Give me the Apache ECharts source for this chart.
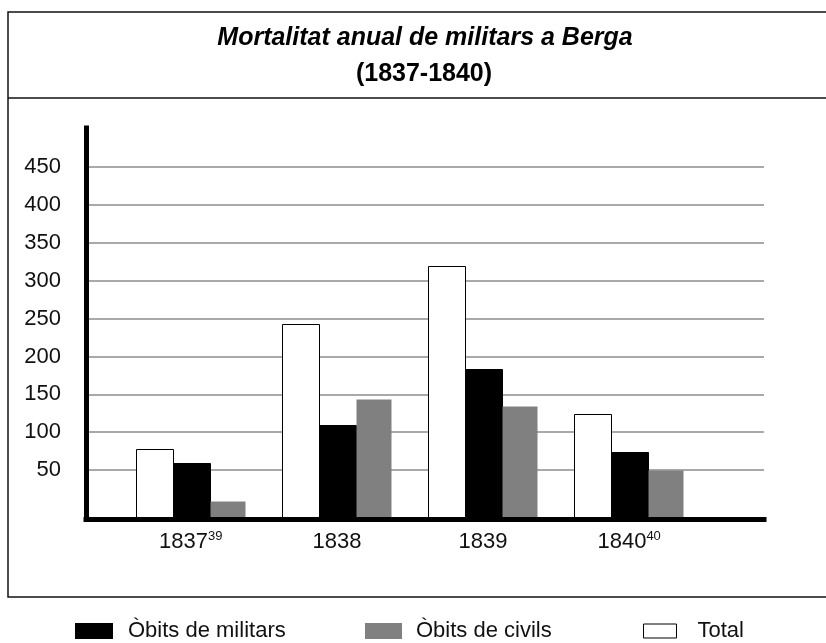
<!DOCTYPE html>
<html>
<head>
<meta charset="utf-8">
<script src="https://cdn.jsdelivr.net/npm/echarts@6/dist/echarts.min.js"></script>
<style>
  html, body { margin: 0; padding: 0; background: #fff; }
  #main { width: 826px; height: 643px; }
</style>
</head>
<body>
<div id="main"></div>
<script>
const years = ['1837', '1838', '1839', '1840'];
const notes = ['39', '', '', '40'];
const total = [78, 243, 319, 124];
const militars = [59, 109, 184, 74];
const civils = [9, 144, 134, 50];
const yTicks = [50, 100, 150, 200, 250, 300, 350, 400, 450];

const FONT = "'Liberation Sans', Arial, sans-serif";

// vertical layout: value 0 of the scale sits at y=507.8, 500 at y=129.4,
// the thick x axis is drawn a bit lower (y=519.5) and bars stand on it
const zeroY = 507.8, topY = 129.4, axisY = 519.5;
const pxPerUnit = (zeroY - topY) / 500;
const barMin = -(axisY - zeroY) / pxPerUnit;

const chart = echarts.init(document.getElementById('main'));

function barSeries(name, values, x0, x1, fill, stroke) {
    return {
        type: 'custom',
        name: name,
        xAxisIndex: 2,
        yAxisIndex: 2,
        z: 3,
        data: values.map(function (v, i) { return [i, v]; }),
        renderItem: function (params, api) {
            const c = api.coord([api.value(0), api.value(1)]);
            const bottom = params.coordSys.y + params.coordSys.height;
            return {
                type: 'rect',
                shape: { x: Math.round(c[0] + x0) + 0.5, y: Math.round(c[1]) + 0.5, width: x1 - x0, height: bottom - Math.round(c[1]) },
                style: { fill: fill, stroke: stroke, lineWidth: stroke === 'none' ? 0 : 1 }
            };
        }
    };
}

function legendBox(name, left, w, h, itemStyle, gap) {
    return {
        left: left,
        top: 620,
        padding: 0,
        itemWidth: w,
        itemHeight: h,
        icon: 'rect',
        selectedMode: false,
        data: [{ name: name, itemStyle: itemStyle }],
        textStyle: { fontFamily: FONT, fontSize: 22, color: '#111', padding: [0, 0, 0, gap] }
    };
}

const option = {
    animation: false,
    backgroundColor: '#fff',
    graphic: [
        { type: 'rect', shape: { x: 8, y: 12, width: 860, height: 585 },
          style: { fill: 'none', stroke: '#111', lineWidth: 1.5 }, z: 0 },
        { type: 'line', shape: { x1: 8, y1: 98, x2: 826, y2: 98 },
          style: { stroke: '#111', lineWidth: 1.5 }, z: 0 },
        { type: 'text', x: 425, y: 38,
          style: { text: 'Mortalitat anual de militars a Berga', font: 'italic bold 25px ' + FONT,
                   fill: '#000', textAlign: 'center', textVerticalAlign: 'middle' } },
        { type: 'text', x: 424, y: 74,
          style: { text: '(1837-1840)', font: 'bold 25px ' + FONT,
                   fill: '#000', textAlign: 'center', textVerticalAlign: 'middle' } }
    ],
    legend: [
        legendBox('Òbits de militars', 75, 38, 16, { color: '#000' }, 10),
        legendBox('Òbits de civils', 365, 37, 16, { color: '#808080' }, 9),
        legendBox('Total', 643, 33, 14, { color: '#fff', borderColor: '#000', borderWidth: 1 }, 16)
    ],
    grid: [
        { left: 86, right: 62, top: topY, bottom: 643 - zeroY },
        { left: 86, right: 62, top: 128, bottom: 643 - axisY },
        { left: 117.75, right: 123.8, top: topY, bottom: 643 - axisY }
    ],
    xAxis: [
        { gridIndex: 0, type: 'value', show: false },
        { gridIndex: 1, type: 'value', z: 10,
          axisLine: { show: true, lineStyle: { color: '#000', width: 5, cap: 'square' } },
          axisTick: { show: false }, axisLabel: { show: false }, splitLine: { show: false } },
        { gridIndex: 2, type: 'category', data: years,
          axisLine: { show: false }, axisTick: { show: false },
          axisLabel: {
              margin: 10,
              formatter: function (v, i) { return '{y|' + v + '}' + (notes[i] ? '{s|' + notes[i] + '}' : ''); },
              rich: {
                  y: { fontFamily: FONT, fontSize: 22, color: '#111', lineHeight: 24 },
                  s: { fontFamily: FONT, fontSize: 13, color: '#111', verticalAlign: 'top', lineHeight: 24 }
              }
          } }
    ],
    yAxis: [
        { gridIndex: 0, type: 'value', min: 0, max: 500, interval: 50,
          axisLine: { show: false }, axisTick: { show: false },
          axisLabel: { margin: 25, fontFamily: FONT, fontSize: 22, color: '#111',
                       formatter: function (v) { return yTicks.indexOf(v) >= 0 ? String(v) : ''; } },
          splitLine: { show: true, showMinLine: false, showMaxLine: false,
                       lineStyle: { color: '#8c8c8c', width: 1.5 } } },
        { gridIndex: 1, type: 'value', z: 10,
          axisLine: { show: true, lineStyle: { color: '#000', width: 5, cap: 'square' } },
          axisTick: { show: false }, axisLabel: { show: false }, splitLine: { show: false } },
        { gridIndex: 2, type: 'value', min: barMin, max: 500, show: false }
    ],
    series: [
        barSeries('Total', total, -55, -18, '#fff', '#000'),
        barSeries('Òbits de militars', militars, -18, 19, '#000', '#000'),
        barSeries('Òbits de civils', civils, 19, 54, '#808080', 'none')
    ]
};

chart.setOption(option);
</script>
</body>
</html>
